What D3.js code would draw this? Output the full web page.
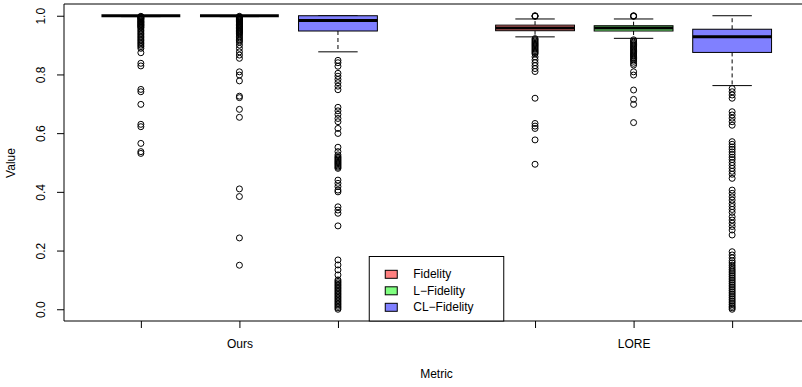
<!DOCTYPE html>
<html>
<head>
<meta charset="utf-8">
<script src="https://cdn.jsdelivr.net/npm/d3@7"></script>
<style>
  body { margin: 0; background: #fff; overflow: hidden; }
  svg { display: block; }
  text { font-family: "Liberation Sans", Arial, sans-serif; font-size: 12px; fill: #000; }
</style>
</head>
<body>
<svg id="chart"></svg>
<script>
// Box positions on the x axis (R style: 1..7 with a gap at 4)
const boxPos = [1, 2, 3, 5, 6, 7]
const groups = ["Ours", "LORE"]
const groupPos = [2, 6]
const metrics = ["Fidelity", "L\u2212Fidelity", "CL\u2212Fidelity"]
const yTicks = [0, 0.2, 0.4, 0.6, 0.8, 1.0]

// five number summaries, one entry per box
const whiskerLow = [0.997, 0.997, 0.877, 0.928, 0.923, 0.762]
const q1 = [1.0, 1.0, 0.948, 0.949, 0.948, 0.875]
const median = [1.0, 1.0, 0.984, 0.958, 0.958, 0.928]
const q3 = [1.0, 1.0, 1.0, 0.968, 0.966, 0.954]
const whiskerHigh = [1.0, 1.0, 1.0, 0.989, 0.989, 1.0]

// outliers per box
const oursFidelityOut = [0.998, 0.996, 0.994, 0.992, 0.990, 0.988, 0.985, 0.982, 0.980, 0.977, 0.975, 0.972, 0.970, 0.967, 0.965, 0.962, 0.960, 0.955, 0.950, 0.945, 0.940, 0.935, 0.930, 0.925, 0.920, 0.915, 0.910, 0.905, 0.900, 0.895, 0.889, 0.874, 0.838, 0.829, 0.749, 0.741, 0.698, 0.630, 0.622, 0.565, 0.537, 0.531]
const oursLFidelityOut = [0.998, 0.996, 0.994, 0.992, 0.990, 0.988, 0.986, 0.984, 0.982, 0.980, 0.978, 0.975, 0.972, 0.970, 0.967, 0.965, 0.962, 0.960, 0.957, 0.955, 0.952, 0.950, 0.947, 0.945, 0.942, 0.940, 0.935, 0.930, 0.925, 0.920, 0.915, 0.910, 0.900, 0.889, 0.877, 0.866, 0.855, 0.809, 0.798, 0.778, 0.726, 0.721, 0.681, 0.654, 0.410, 0.384, 0.243, 0.150]
const oursCLOut = [0.848, 0.840, 0.828, 0.804, 0.794, 0.783, 0.772, 0.760, 0.748, 0.688, 0.676, 0.664, 0.650, 0.639, 0.616, 0.599, 0.552, 0.537, 0.526, 0.520, 0.516, 0.512, 0.508, 0.504, 0.500, 0.496, 0.492, 0.488, 0.484, 0.480, 0.440, 0.429, 0.418, 0.406, 0.400, 0.349, 0.338, 0.327, 0.284, 0.168, 0.151, 0.134, 0.117, 0.100, 0.095, 0.090, 0.085, 0.080, 0.075, 0.070, 0.065, 0.060, 0.055, 0.050, 0.045, 0.040, 0.035, 0.030, 0.025, 0.020, 0.015, 0.010, 0.005, 0.000]
const loreFidelityOut = [1.000, 0.999, 0.998, 0.922, 0.918, 0.914, 0.910, 0.906, 0.902, 0.898, 0.894, 0.890, 0.886, 0.882, 0.878, 0.874, 0.870, 0.860, 0.850, 0.840, 0.830, 0.820, 0.810, 0.719, 0.633, 0.624, 0.616, 0.577, 0.494]
const loreLFidelityOut = [1.000, 0.999, 0.998, 0.918, 0.914, 0.910, 0.906, 0.902, 0.898, 0.894, 0.890, 0.886, 0.882, 0.878, 0.874, 0.870, 0.866, 0.862, 0.858, 0.854, 0.850, 0.845, 0.838, 0.832, 0.809, 0.798, 0.747, 0.715, 0.698, 0.636]
const loreCLOut = [0.752, 0.741, 0.730, 0.719, 0.673, 0.662, 0.651, 0.639, 0.627, 0.571, 0.562, 0.553, 0.545, 0.536, 0.527, 0.518, 0.510, 0.500, 0.490, 0.480, 0.470, 0.460, 0.446, 0.406, 0.395, 0.383, 0.372, 0.360, 0.350, 0.340, 0.330, 0.315, 0.304, 0.293, 0.282, 0.270, 0.253, 0.196, 0.185, 0.175, 0.165, 0.158, 0.150, 0.143, 0.136, 0.130, 0.124, 0.118, 0.112, 0.106, 0.100, 0.094, 0.088, 0.082, 0.076, 0.070, 0.064, 0.058, 0.052, 0.046, 0.040, 0.034, 0.028, 0.022, 0.016, 0.010, 0.005, 0.000]
const outliers = [oursFidelityOut, oursLFidelityOut, oursCLOut, loreFidelityOut, loreLFidelityOut, loreCLOut]

const fills = ["#FF8080", "#80FF80", "#8080FF"]

let svg = d3.select("#chart").attr("width", 802).attr("height", 387)

// plot region (right edge runs past the window, like the reference)
let plotL = 64, plotR = 809, plotT = 4, plotB = 321
let x = d3.scaleLinear().domain([0.22, 7.78]).range([plotL, plotR])
let y = d3.scaleLinear().domain([-0.04, 1.04]).range([plotB, plotT])
let halfBox = (x(1.4) - x(1))
let halfCap = halfBox / 2

// y axis with rotated labels
let yAxis = svg.append("g")
    .attr("transform", "translate(" + plotL + ",0)")
    .call(d3.axisLeft(y).tickValues(yTicks).tickFormat(d3.format(".1f")).tickSize(7))
yAxis.select(".domain").remove()
yAxis.selectAll("line").attr("stroke", "#000")
yAxis.selectAll("text")
    .attr("transform", "rotate(-90)")
    .attr("x", 0).attr("y", -23).attr("dy", null)
    .attr("text-anchor", "middle")
    .attr("dominant-baseline", "central")
    .style("font-size", "12px")
yAxis.attr("font-family", null).attr("font-size", null)

// x axis, labels only under the middle box of each group
let xAxis = svg.append("g")
    .attr("transform", "translate(0," + plotB + ")")
    .call(d3.axisBottom(x).tickValues(boxPos).tickSize(7)
        .tickFormat(d => groupPos.indexOf(d) >= 0 ? groups[groupPos.indexOf(d)] : ""))
xAxis.select(".domain").remove()
xAxis.selectAll("line").attr("stroke", "#000")
xAxis.selectAll("text").attr("y", 23).attr("dy", "0.35em").style("font-size", "12px")
xAxis.attr("font-family", null).attr("font-size", null)

// axis titles
svg.append("text").attr("transform", "translate(11,163) rotate(-90)")
    .attr("text-anchor", "middle").attr("dominant-baseline", "central").text("Value")
svg.append("text").attr("x", x(4)).attr("y", 374)
    .attr("text-anchor", "middle").attr("dominant-baseline", "central").text("Metric")

// boxes
for (let i = 0; i < boxPos.length; i++) {
    let cx = x(boxPos[i])
    let g = svg.append("g")
    // dashed whiskers
    g.append("line").attr("x1", cx).attr("x2", cx).attr("y1", y(q3[i])).attr("y2", y(whiskerHigh[i]))
        .attr("stroke", "#000").attr("stroke-dasharray", "4,3")
    g.append("line").attr("x1", cx).attr("x2", cx).attr("y1", y(q1[i])).attr("y2", y(whiskerLow[i]))
        .attr("stroke", "#000").attr("stroke-dasharray", "4,3")
    // caps
    for (let v of [whiskerLow[i], whiskerHigh[i]]) {
        g.append("line").attr("x1", cx - halfCap).attr("x2", cx + halfCap)
            .attr("y1", y(v)).attr("y2", y(v)).attr("stroke", "#000")
    }
    g.append("rect")
        .attr("x", cx - halfBox).attr("width", 2 * halfBox)
        .attr("y", y(q3[i])).attr("height", Math.max(0, y(q1[i]) - y(q3[i])))
        .attr("fill", fills[i % 3]).attr("stroke", "#000")
    g.append("line").attr("x1", cx - halfBox).attr("x2", cx + halfBox)
        .attr("y1", y(median[i])).attr("y2", y(median[i]))
        .attr("stroke", "#000").attr("stroke-width", 3)
    g.selectAll("circle").data(outliers[i]).enter().append("circle")
        .attr("cx", cx).attr("cy", d => y(d)).attr("r", 3)
        .attr("fill", "none").attr("stroke", "#000").attr("stroke-width", 1)
}

// frame: left, top and bottom sides (right side is outside the window)
svg.append("path")
    .attr("d", "M" + plotR + "," + plotT + "H" + plotL + "V" + plotB + "H" + plotR)
    .attr("fill", "none").attr("stroke", "#000")

// legend at the bottom centre
let legW = 134.5, legH = 64.5
let leg = svg.append("g").attr("transform", "translate(" + (x(4) - legW / 2) + "," + (plotB - legH) + ")")
leg.append("rect").attr("width", legW).attr("height", legH).attr("fill", "#fff").attr("stroke", "#000")
metrics.forEach(function (m, i) {
    let cy = 17.8 + i * 16.5
    leg.append("rect").attr("x", 16).attr("y", cy - 4).attr("width", 12).attr("height", 8)
        .attr("fill", fills[i]).attr("stroke", "#000")
    leg.append("text").attr("x", 44).attr("y", cy).attr("dominant-baseline", "central").text(m)
})
</script>
</body>
</html>
